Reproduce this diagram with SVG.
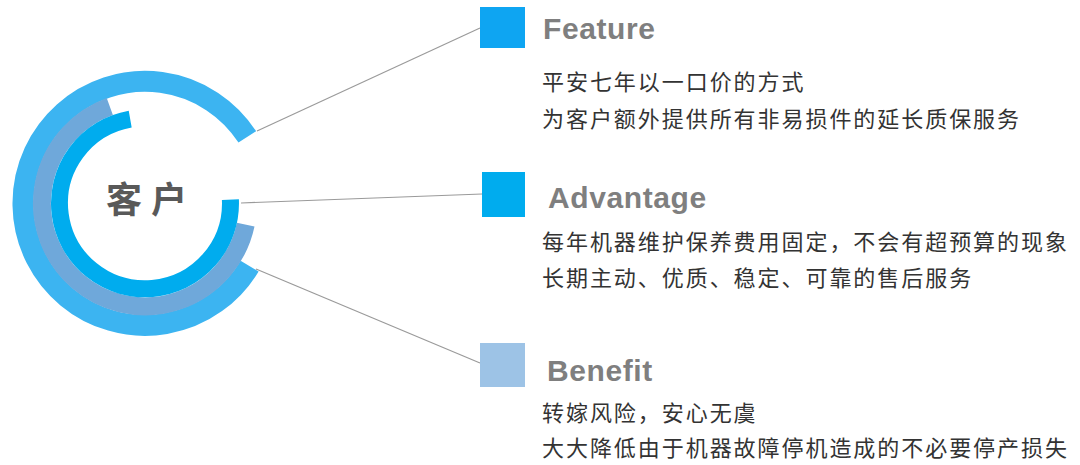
<svg xmlns="http://www.w3.org/2000/svg" width="1080" height="465" viewBox="0 0 1080 465">
<style>
.ring{fill:none;stroke-linecap:butt}
.title{font-family:"Liberation Sans",Arial,sans-serif;font-weight:bold;font-size:30px;letter-spacing:0.6px;fill:#7F7F7F}
.body{font-family:"Noto Sans CJK SC","Noto Sans",sans-serif;font-size:22px;letter-spacing:1.95px;fill:#333333}
.conn{stroke:#9A9A9A;stroke-width:1.2;fill:none}
</style>
<rect width="1080" height="465" fill="#FFFFFF"/>
<g id="connectors">
<line class="conn" x1="257" y1="131" x2="480" y2="28"/>
<line class="conn" x1="241" y1="203" x2="482" y2="194"/>
<line class="conn" x1="256" y1="269" x2="480" y2="363"/>
</g>
<g id="customer">
<path class="ring" d="M249.6,266.1 A122,122 0 1 1 247.3,136.9" stroke="#3CB4F1" stroke-width="21"/>
<path class="ring" d="M245.7,224.7 A103,103 0 1 1 109.8,106.5" stroke="#6FA8DA" stroke-width="18"/>
<path class="ring" d="M230.4,199.6 A85.5,85.5 0 1 1 130.2,119.1" stroke="#00ACEE" stroke-width="17"/>
<text x="106" y="213" font-family="Noto Sans CJK SC,sans-serif" font-weight="bold" font-size="36" letter-spacing="9" fill="#595959">客户</text>
</g>
<g id="feature">
<rect x="480" y="7" width="45" height="41" fill="#0EA5F2"/>
<text class="title" x="543" y="39">Feature</text>
<text class="body" x="542" y="90">平安七年以一口价的方式</text>
<text class="body" x="542" y="127">为客户额外提供所有非易损件的延长质保服务</text>
</g>
<g id="advantage">
<rect x="482" y="172" width="43" height="45" fill="#00ACEE"/>
<text class="title" x="548" y="208">Advantage</text>
<text class="body" x="542" y="250">每年机器维护保养费用固定，不会有超预算的现象</text>
<text class="body" x="542" y="286">长期主动、优质、稳定、可靠的售后服务</text>
</g>
<g id="benefit">
<rect x="480" y="343" width="45" height="44" fill="#9DC3E6"/>
<text class="title" x="547" y="381">Benefit</text>
<text class="body" x="542" y="421">转嫁风险，安心无虞</text>
<text class="body" x="542" y="456">大大降低由于机器故障停机造成的不必要停产损失</text>
</g>
</svg>
